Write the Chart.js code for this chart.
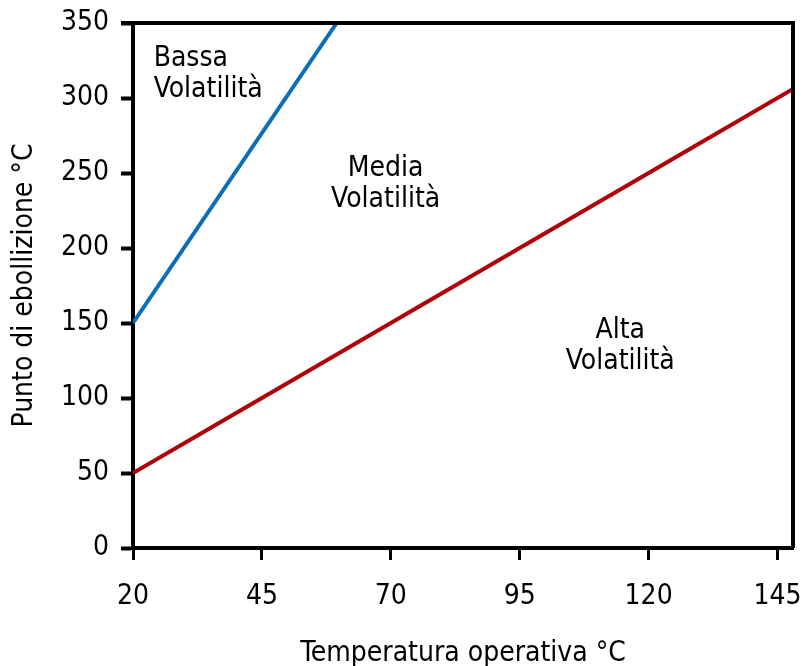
<!DOCTYPE html>
<html>
<head>
<meta charset="utf-8">
<script src="https://cdn.jsdelivr.net/npm/chart.js@4.4.0/dist/chart.umd.min.js"></script>
<style>
  html, body { margin: 0; padding: 0; background: #fff; }
  #wrap { width: 804px; height: 666px; }
</style>
</head>
<body>
<div id="wrap"><canvas id="myChart"></canvas></div>
<script>
// Data ---------------------------------------->
const xTicks = [20, 45, 70, 95, 120, 145];
const yTicks = [0, 50, 100, 150, 200, 250, 300, 350];

const bassaX = [20, 59.5];
const bassaY = [150, 350];

const altaX = [20, 45, 70, 95, 120, 148];
const altaY = [50, 100, 150, 200, 250, 306];

// region labels, placed in data units
const regionText = [['Bassa', 'Volatilità'], ['Media', 'Volatilità'], ['Alta', 'Volatilità']];
const regionX = [24, 69, 114.5];
const regionY = [316, 243, 135];
const regionAlign = ['left', 'center', 'center'];

const FONT = '"DejaVu Sans Condensed", "DejaVu Sans", sans-serif';
const FSIZE = 28;

const toPoints = (xs, ys) => xs.map((x, i) => ({ x: x, y: ys[i] }));

// Box + region labels plugin
const extras = {
  id: 'extras',
  afterDraw(chart) {
    const c = chart.ctx;
    const a = chart.chartArea;
    const xs = chart.scales.x, ys = chart.scales.y;
    c.save();
    c.strokeStyle = '#000';
    c.lineWidth = 4;
    c.beginPath();
    c.moveTo(a.left - 12, a.top);
    c.lineTo(a.right, a.top);
    c.lineTo(a.right, a.bottom);
    c.stroke();

    c.fillStyle = '#000';
    c.font = FSIZE + 'px ' + FONT;
    c.textBaseline = 'middle';
    regionText.forEach((lines, i) => {
      const px = xs.getPixelForValue(regionX[i]);
      const py = ys.getPixelForValue(regionY[i]);
      c.textAlign = regionAlign[i];
      c.fillText(lines[0], px, py - 15);
      c.fillText(lines[1], px, py + 16);
    });
    c.restore();
  }
};

const noPad = (s) => { s.paddingLeft = 0; s.paddingRight = 0; s.paddingTop = 0; s.paddingBottom = 0; };

const ctx = document.getElementById('myChart');

new Chart(ctx, {
  type: 'scatter',
  data: {
    datasets: [{
      label: 'Bassa',
      data: toPoints(bassaX, bassaY),
      showLine: true,
      borderColor: '#0a6fb8',
      borderWidth: 4,
      pointRadius: 0,
    }, {
      label: 'Alta',
      data: toPoints(altaX, altaY),
      showLine: true,
      borderColor: '#b00008',
      borderWidth: 4,
      pointRadius: 0,
    }]
  },
  plugins: [extras],
  options: {
    responsive: true,
    maintainAspectRatio: false,
    animation: false,
    layout: { autoPadding: false, padding: { top: 23, right: 11, left: 0, bottom: 0 } },
    plugins: {
      legend: { display: false },
      tooltip: { enabled: false }
    },
    scales: {
      x: {
        type: 'linear',
        min: 20,
        max: 148,
        afterBuildTicks: (s) => { s.ticks = xTicks.map(v => ({ value: v })); },
        afterFit: (s) => { s.height = 118; noPad(s); },
        border: { display: true, color: '#000', width: 4 },
        grid: {
          drawOnChartArea: false,
          drawTicks: true,
          tickLength: 12,
          tickWidth: 3,
          tickColor: '#000',
        },
        ticks: {
          color: '#000',
          padding: 20,
          maxRotation: 0,
          font: { family: FONT, size: FSIZE }
        },
        title: {
          display: true,
          text: 'Temperatura operativa °C',
          color: '#000',
          padding: { top: 28, bottom: -5 },
          font: { family: FONT, size: FSIZE }
        }
      },
      y: {
        min: 0,
        max: 350,
        afterBuildTicks: (s) => { s.ticks = yTicks.map(v => ({ value: v })); },
        afterFit: (s) => { s.width = 133; noPad(s); },
        border: { display: true, color: '#000', width: 4 },
        grid: {
          drawOnChartArea: false,
          drawTicks: true,
          tickLength: 12,
          tickWidth: 4,
          tickColor: '#000',
        },
        ticks: {
          color: '#000',
          padding: 12,
          font: { family: FONT, size: FSIZE }
        },
        title: {
          display: true,
          text: 'Punto di ebollizione °C',
          color: '#000',
          padding: { top: 8, bottom: 0 },
          font: { family: FONT, size: FSIZE }
        }
      }
    }
  }
});
</script>
</body>
</html>
